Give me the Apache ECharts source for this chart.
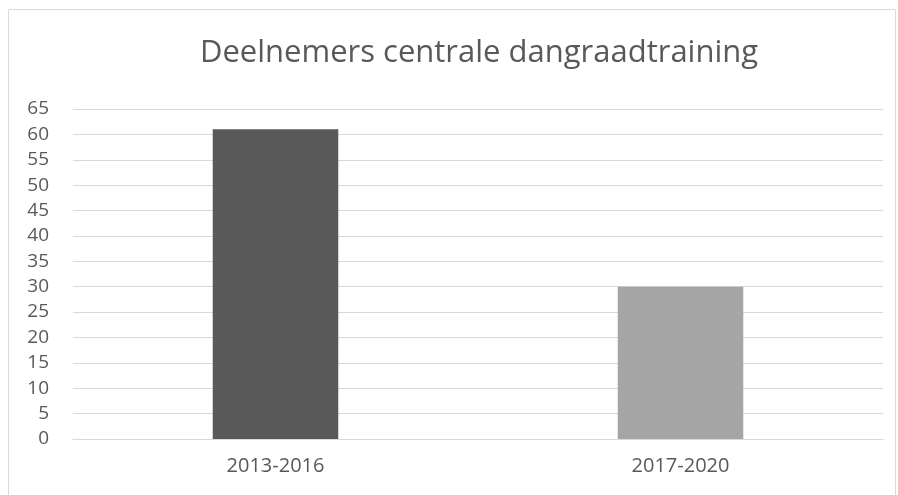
<!DOCTYPE html>
<html>
<head>
<meta charset="utf-8">
<script src="https://cdn.jsdelivr.net/npm/echarts@6/dist/echarts.min.js"></script>
<style>
    html, body { margin: 0; padding: 0; background: #fff; }
    #chart { width: 898px; height: 495px; }
</style>
</head>
<body>
<div id="chart"></div>
<script>
    var titleText = 'Deelnemers centrale dangraadtraining';
    var periods = ['2013-2016', '2017-2020'];
    var participants = [61, 30];
    var barColors = ['#595959', '#a5a5a5'];

    var chart = echarts.init(document.getElementById('chart'));

    chart.setOption({
        backgroundColor: '#fff',
        animation: false,
        title: {
            text: titleText,
            left: 474,
            textAlign: 'center',
            top: 33,
            textStyle: {
                fontFamily: 'Open Sans',
                fontSize: 31,
                fontWeight: 'normal',
                color: '#595959'
            }
        },
        graphic: [{
            type: 'rect',
            shape: { x: 8.5, y: 9.5, width: 887, height: 495 },
            style: { fill: 'none', stroke: '#d9d9d9', lineWidth: 1 },
            silent: true
        }],
        grid: { left: 73, right: 15, top: 109, bottom: 56 },
        xAxis: {
            type: 'category',
            data: periods,
            axisLine: { lineStyle: { color: '#d9d9d9' } },
            axisTick: { show: false },
            axisLabel: {
                margin: 17,
                fontFamily: 'Open Sans',
                fontSize: 20,
                color: '#595959'
            }
        },
        yAxis: {
            type: 'value',
            min: 0,
            max: 65,
            interval: 5,
            axisLine: { show: false },
            axisTick: { show: false },
            axisLabel: {
                margin: 24,
                fontFamily: 'Open Sans',
                fontSize: 19,
                color: '#595959'
            },
            splitLine: { lineStyle: { color: '#d9d9d9', width: 1 } }
        },
        series: [{
            type: 'bar',
            barWidth: '31%',
            data: participants.map(function (v, i) {
                return { value: v, itemStyle: { color: barColors[i] } };
            })
        }]
    });
</script>
</body>
</html>
